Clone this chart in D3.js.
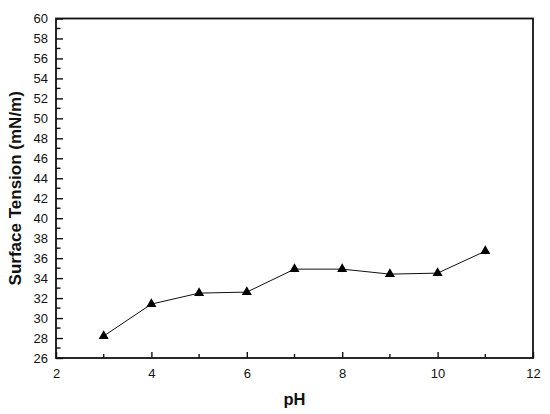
<!DOCTYPE html>
<html>
<head>
<meta charset="utf-8">
<script src="https://cdn.jsdelivr.net/npm/d3@7"></script>
<style>
  body { margin: 0; background: #fff; }
  svg { display: block; font-family: "Liberation Sans", Arial, sans-serif; }
</style>
</head>
<body>
<svg id="chart" width="550" height="414"></svg>
<script>
const valoresPh = [3, 4, 5, 6, 7, 8, 9, 10, 11];
const tensionSuperficial = [28.2, 31.4, 32.5, 32.6, 34.9, 34.9, 34.4, 34.5, 36.7];
const errorTension = [0.3, 0.3, 0.3, 0.3, 0.3, 0.3, 0.3, 0.3, 0.3];
const ticksX = [2, 4, 6, 8, 10, 12];
const ticksY = d3.range(26, 61, 2);

const margen = { izq: 56, der: 533, sup: 18.5, inf: 358 };
const lienzo = d3.select('#chart');

const escalaX = d3.scaleLinear().domain([2, 12]).range([margen.izq, margen.der]);
const escalaY = d3.scaleLinear().domain([26, 60]).range([margen.inf, margen.sup]);

// ticks menores (hacia dentro)
const menoresX = d3.range(3, 12, 2);
const menoresY = d3.range(27, 60, 2);

const ejeX = d3.axisBottom(escalaX).tickValues(ticksX).tickSize(-6).tickPadding(11).tickFormat(d3.format('d'));
const ejeY = d3.axisLeft(escalaY).tickValues(ticksY).tickSize(-7).tickPadding(8).tickFormat(d3.format('d'));

const gX = lienzo.append('g').attr('transform', `translate(0,${margen.inf})`).call(ejeX);
const gY = lienzo.append('g').attr('transform', `translate(${margen.izq},0)`).call(ejeY);

[gX, gY].forEach(g => {
  g.select('.domain').remove();
  g.selectAll('.tick line').attr('stroke', '#111').attr('stroke-width', 1.4);
  g.selectAll('.tick text').attr('fill', '#111').style('font-size', '13px');
});

lienzo.append('g').selectAll('line').data(menoresX).enter().append('line')
  .attr('x1', d => escalaX(d)).attr('x2', d => escalaX(d))
  .attr('y1', margen.inf).attr('y2', margen.inf - 4)
  .attr('stroke', '#111').attr('stroke-width', 1.4);

lienzo.append('g').selectAll('line').data(menoresY).enter().append('line')
  .attr('x1', margen.izq).attr('x2', margen.izq + 4.5)
  .attr('y1', d => escalaY(d)).attr('y2', d => escalaY(d))
  .attr('stroke', '#111').attr('stroke-width', 1.4);

// marco
lienzo.append('rect')
  .attr('x', margen.izq).attr('y', margen.sup)
  .attr('width', margen.der - margen.izq).attr('height', margen.inf - margen.sup)
  .attr('fill', 'none').attr('stroke', '#111').attr('stroke-width', 1.8);

const puntos = valoresPh.map((x, i) => ({ x, y: tensionSuperficial[i], e: errorTension[i] }));

lienzo.append('path')
  .datum(puntos)
  .attr('fill', 'none').attr('stroke', '#111').attr('stroke-width', 1)
  .attr('d', d3.line().x(d => escalaX(d.x)).y(d => escalaY(d.y)));

lienzo.append('g').selectAll('line').data(puntos).enter().append('line')
  .attr('x1', d => escalaX(d.x)).attr('x2', d => escalaX(d.x))
  .attr('y1', d => escalaY(d.y - d.e)).attr('y2', d => escalaY(d.y + d.e))
  .attr('stroke', '#111').attr('stroke-width', 1);

lienzo.append('g').selectAll('path').data(puntos).enter().append('path')
  .attr('d', d3.symbol().type(d3.symbolTriangle).size(44))
  .attr('transform', d => `translate(${escalaX(d.x)},${escalaY(d.y)})`)
  .attr('fill', '#000');

lienzo.append('text')
  .attr('transform', `translate(21,${(margen.sup + margen.inf) / 2}) rotate(-90)`)
  .attr('text-anchor', 'middle')
  .style('font-size', '17px').style('font-weight', 'bold').attr('fill', '#111')
  .text('Surface Tension (mN/m)');

lienzo.append('text')
  .attr('x', (margen.izq + margen.der) / 2).attr('y', 405)
  .attr('text-anchor', 'middle')
  .style('font-size', '16.5px').style('font-weight', 'bold').attr('fill', '#111')
  .text('pH');
</script>
</body>
</html>
